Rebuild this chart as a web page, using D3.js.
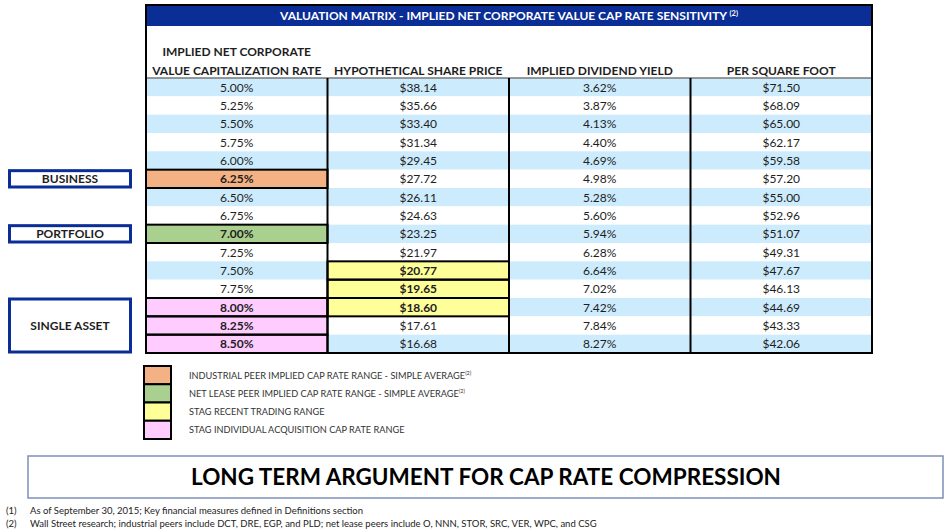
<!DOCTYPE html>
<html>
<head>
<meta charset="utf-8">
<script src="https://cdn.jsdelivr.net/npm/d3@7"></script>
<style>
  body { margin: 0; background: #fff; }
  svg text { font-family: Lato, "Open Sans", sans-serif; }
</style>
</head>
<body>
<div id="chart"></div>
<script>
var w = 948, h = 532;

// table data
var rates = ["5.00%","5.25%","5.50%","5.75%","6.00%","6.25%","6.50%","6.75%","7.00%","7.25%","7.50%","7.75%","8.00%","8.25%","8.50%"];
var prices = [38.14,35.66,33.40,31.34,29.45,27.72,26.11,24.63,23.25,21.97,20.77,19.65,18.60,17.61,16.68];
var yields = [3.62,3.87,4.13,4.40,4.69,4.98,5.28,5.60,5.94,6.28,6.64,7.02,7.42,7.84,8.27];
var perSqft = [71.50,68.09,65.00,62.17,59.58,57.20,55.00,52.96,51.07,49.31,47.67,46.13,44.69,43.33,42.06];

var columns = ["rate","price","yield","sqft"];
var headerLine1 = ["IMPLIED NET CORPORATE","","",""];
var headerLine2 = ["VALUE CAPITALIZATION RATE","HYPOTHETICAL SHARE PRICE","IMPLIED DIVIDEND YIELD","PER SQUARE FOOT"];

// highlighted cells: [column, row, category]
var highlights = [
  ["rate", 5, "industrial"],
  ["rate", 8, "netlease"],
  ["rate", 12, "acquisition"],
  ["rate", 13, "acquisition"],
  ["rate", 14, "acquisition"],
  ["price", 10, "trading"],
  ["price", 11, "trading"],
  ["price", 12, "trading"]
];

// side labels: [text, first row, last row]
var sideLabels = [
  ["BUSINESS", 5, 5],
  ["PORTFOLIO", 8, 8],
  ["SINGLE ASSET", 12, 14]
];

var legendKeys = ["industrial","netlease","trading","acquisition"];
var legendLabels = [
  "INDUSTRIAL PEER IMPLIED CAP RATE RANGE - SIMPLE AVERAGE",
  "NET LEASE PEER IMPLIED CAP RATE RANGE - SIMPLE AVERAGE",
  "STAG RECENT TRADING RANGE",
  "STAG INDIVIDUAL ACQUISITION CAP RATE RANGE"
];
var legendSup = ["(2)","(2)","",""];

var footnotes = [
  ["(1)", "As of September 30, 2015; Key financial measures defined in Definitions section"],
  ["(2)", "Wall Street research; industrial peers include DCT, DRE, EGP, and PLD; net lease peers include O, NNN, STOR, SRC, VER, WPC, and CSG"]
];

var fills = d3.scaleOrdinal()
  .domain(legendKeys)
  .range(["#F4B183", "#A9D08E", "#FFFF99", "#FFCCFF"]);

var navy = "#0A2D96";
var bandBlue = "#CCEBFC";
var textCol = "#1e1e1e";

var svg = d3.select("#chart").append("svg").attr("width", w).attr("height", h);

var x = d3.scaleBand().domain(columns).range([146, 872]);
var y = d3.scaleBand().domain(d3.range(rates.length)).range([78, 353]);

function cellText(col, i) {
  if (col == "rate") return rates[i];
  if (col == "price") return "$" + prices[i].toFixed(2);
  if (col == "yield") return yields[i].toFixed(2) + "%";
  return "$" + perSqft[i].toFixed(2);
}

/*
 * title band
 */
svg.append("rect").attr("x", 146).attr("y", 5).attr("width", 726).attr("height", 21).attr("fill", navy);
var title = svg.append("text").attr("x", 509).attr("y", 20).attr("text-anchor", "middle")
  .attr("fill", "#fff").attr("font-size", 12).attr("font-weight", "bold");
title.append("tspan").text("VALUATION MATRIX - IMPLIED NET CORPORATE VALUE CAP RATE SENSITIVITY ");
title.append("tspan").attr("font-size", 7.5).attr("dy", -4).text("(2)");

// column headers
columns.forEach(function(c, k) {
  var cx = x(c) + x.bandwidth() / 2;
  svg.append("text").attr("x", cx).attr("y", 56).attr("text-anchor", "middle")
    .attr("font-size", 12).attr("font-weight", "bold").attr("fill", textCol).text(headerLine1[k]);
  svg.append("text").attr("x", cx).attr("y", 75).attr("text-anchor", "middle")
    .attr("font-size", 12).attr("font-weight", "bold").attr("fill", textCol).text(headerLine2[k]);
});

/*
 * rows
 */
var rows = svg.append("g");
rows.selectAll("rect.band").data(d3.range(rates.length)).enter().append("rect")
  .attr("class", "band")
  .attr("x", 146).attr("y", function(i) { return y(i); })
  .attr("width", 726).attr("height", y.bandwidth())
  .attr("fill", function(i) { return i % 2 == 0 ? bandBlue : "#fff"; });

// highlight fills
rows.selectAll("rect.hl").data(highlights).enter().append("rect")
  .attr("class", "hl")
  .attr("x", function(d) { return x(d[0]); })
  .attr("y", function(d) { return y(d[1]); })
  .attr("width", x.bandwidth()).attr("height", y.bandwidth())
  .attr("fill", function(d) { return fills(d[2]); });

// header bottom line and table bottom line
svg.append("line").attr("x1", 146).attr("x2", 872).attr("y1", 78).attr("y2", 78)
  .attr("stroke", "#777").attr("stroke-width", 1.5);
svg.append("line").attr("x1", 146).attr("x2", 872).attr("y1", 353).attr("y2", 353)
  .attr("stroke", "#777").attr("stroke-width", 1.5);

// column dividers
svg.selectAll("line.div").data(columns.slice(1)).enter().append("line")
  .attr("class", "div")
  .attr("x1", function(c) { return x(c); }).attr("x2", function(c) { return x(c); })
  .attr("y1", 78).attr("y2", 353)
  .attr("stroke", "#000").attr("stroke-width", 2);

// highlight borders
rows.selectAll("rect.hlb").data(highlights).enter().append("rect")
  .attr("class", "hlb")
  .attr("x", function(d) { return x(d[0]); })
  .attr("y", function(d) { return y(d[1]); })
  .attr("width", x.bandwidth()).attr("height", y.bandwidth())
  .attr("fill", "none").attr("stroke", "#000").attr("stroke-width", 2);

// outer table border
svg.append("rect").attr("x", 146).attr("y", 5).attr("width", 726).attr("height", 348)
  .attr("fill", "none").attr("stroke", "#000").attr("stroke-width", 2);

// cell text
var isHl = {};
highlights.forEach(function(d) { isHl[d[0] + d[1]] = true; });
columns.forEach(function(c) {
  svg.selectAll("text.c-" + c).data(d3.range(rates.length)).enter().append("text")
    .attr("class", "c-" + c)
    .attr("x", x(c) + x.bandwidth() / 2)
    .attr("y", function(i) { return y(i) + y.bandwidth() / 2 + 4.5; })
    .attr("text-anchor", "middle")
    .attr("font-size", 12)
    .attr("font-weight", function(i) { return isHl[c + i] ? "bold" : "normal"; })
    .attr("fill", textCol)
    .text(function(i) { return cellText(c, i); });
});

/*
 * side labels
 */
var side = svg.selectAll("g.side").data(sideLabels).enter().append("g").attr("class", "side");
side.append("rect")
  .attr("x", 9.5)
  .attr("y", function(d) { return y(d[1]) + 1; })
  .attr("width", 121)
  .attr("height", function(d) { return y(d[2]) + y.bandwidth() - y(d[1]) - 2; })
  .attr("fill", "#fff").attr("stroke", navy).attr("stroke-width", 3);
side.append("text")
  .attr("x", 70)
  .attr("y", function(d) { return (y(d[1]) + y(d[2]) + y.bandwidth()) / 2 + 4.5; })
  .attr("text-anchor", "middle").attr("font-size", 12).attr("font-weight", "bold").attr("fill", textCol)
  .text(function(d) { return d[0]; });

/*
 * legend
 */
var ly = d3.scaleBand().domain(legendKeys).range([366, 439]);
var leg = svg.selectAll("g.leg").data(legendKeys).enter().append("g").attr("class", "leg");
leg.append("rect")
  .attr("x", 144).attr("y", function(k) { return ly(k); })
  .attr("width", 27).attr("height", ly.bandwidth())
  .attr("fill", function(k) { return fills(k); })
  .attr("stroke", "#000").attr("stroke-width", 2);
var lt = leg.append("text")
  .attr("x", 189).attr("y", function(k) { return ly(k) + ly.bandwidth() / 2 + 3.5; })
  .attr("font-size", 9.2).attr("fill", "#333");
lt.append("tspan").text(function(k, i) { return legendLabels[i]; });
lt.append("tspan").attr("font-size", 5.5).attr("dy", -4).text(function(k, i) { return legendSup[i]; });

/*
 * bottom banner
 */
svg.append("rect").attr("x", 28).attr("y", 456).attr("width", 915).attr("height", 42)
  .attr("fill", "#fff").attr("stroke", "#7F8FB8").attr("stroke-width", 1.5);
svg.append("text").attr("x", 486).attr("y", 485).attr("text-anchor", "middle")
  .attr("font-size", 22.5).attr("font-weight", "bold").attr("fill", "#000")
  .text("LONG TERM ARGUMENT FOR CAP RATE COMPRESSION");

// footnotes
var fn = svg.selectAll("g.fn").data(footnotes).enter().append("g").attr("class", "fn");
fn.append("text").attr("x", 6).attr("y", function(d, i) { return 514 + i * 13; })
  .attr("font-size", 9.5).attr("fill", "#222").text(function(d) { return d[0]; });
fn.append("text").attr("x", 30).attr("y", function(d, i) { return 514 + i * 13; })
  .attr("font-size", 9.5).attr("fill", "#222").text(function(d) { return d[1]; });
</script>
</body>
</html>
